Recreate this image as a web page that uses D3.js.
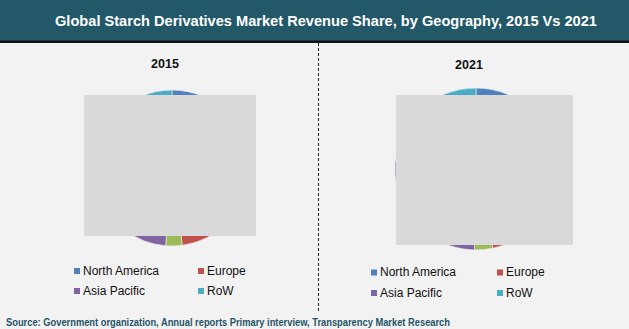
<!DOCTYPE html>
<html><head><meta charset="utf-8">
<script src="https://cdn.jsdelivr.net/npm/d3@7"></script>
<style>html,body{margin:0;padding:0;background:#F2F2F2;}svg{display:block;}</style>
</head><body>
<script>
const titleText = "Global Starch Derivatives Market Revenue Share, by Geography, 2015 Vs 2021";
const sourceText = "Source: Government organization, Annual reports Primary interview, Transparency Market Research";
const years = ["2015", "2021"];
const regions = ["North America", "Europe", "Latin America", "Asia Pacific", "RoW"];
const legendItems = ["North America", "Europe", "Asia Pacific", "RoW"];
const share2015 = [26.5, 21.4, 3.4, 36.0, 12.7];
const share2021 = [25.5, 21.2, 3.6, 37.5, 12.2];
const colors = ["#4F81BD", "#C0504D", "#9BBB59", "#8064A2", "#4BACC6"];

const W = 629, H = 329;
const svg = d3.select("body").append("svg").attr("width", W).attr("height", H);
svg.append("rect").attr("width", W).attr("height", H).attr("fill", "#F2F2F2");

// header
svg.append("rect").attr("x", 0).attr("y", 0).attr("width", W).attr("height", 41).attr("fill", "#225868");
svg.append("rect").attr("x", 0).attr("y", 40.5).attr("width", W).attr("height", 2.5).attr("fill", "#111");
svg.append("text").attr("x", 55).attr("y", 26).attr("fill", "#fff")
  .attr("font-family", "Liberation Sans, Arial, sans-serif").attr("font-weight", "bold").attr("font-size", 15)
  .attr("textLength", 542).attr("lengthAdjust", "spacingAndGlyphs").text(titleText);

// divider
svg.append("line").attr("x1", 318.5).attr("x2", 318.5).attr("y1", 43).attr("y2", 313)
  .attr("stroke", "#222").attr("stroke-width", 1).attr("stroke-dasharray", "3,2");

const color = d3.scaleOrdinal().domain(regions).range(colors);
const pie = d3.pie().sort(null).value(d => d.v);

const panels = [
  {year: years[0], data: share2015, cx: 172, cy: 168, r: 78, tx: 165, ty: 68,
   mask: [84, 95, 172, 141], lx: 74, ly: 268, lcol: 124, lrow: 20},
  {year: years[1], data: share2021, cx: 476, cy: 169, r: 81, tx: 469, ty: 69,
   mask: [396, 95, 177, 150], lx: 371, ly: 269.5, lcol: 126, lrow: 20.5}
];

panels.forEach(p => {
  const g = svg.append("g").attr("transform", `translate(${p.cx},${p.cy})`);
  const arc = d3.arc().innerRadius(0).outerRadius(p.r);
  const rows = regions.map((k, i) => ({k, v: p.data[i]}));
  g.selectAll("path").data(pie(rows)).join("path")
    .attr("d", arc).attr("fill", d => color(d.data.k))
    .attr("stroke", "#F2F2F2").attr("stroke-width", 0.6);
  svg.append("text").attr("x", p.tx).attr("y", p.ty).attr("text-anchor", "middle")
    .attr("font-family", "Liberation Sans, Arial, sans-serif").attr("font-weight", "bold")
    .attr("font-size", 12.5).attr("fill", "#111").text(p.year);
  svg.append("rect").attr("x", p.mask[0]).attr("y", p.mask[1]).attr("width", p.mask[2]).attr("height", p.mask[3])
    .attr("fill", "#D9D9D9");
  const lg = svg.append("g");
  legendItems.forEach((k, i) => {
    const x = p.lx + (i % 2) * p.lcol;
    const y = p.ly + Math.floor(i / 2) * p.lrow;
    lg.append("rect").attr("x", x).attr("y", y).attr("width", 6).attr("height", 6).attr("fill", color(k));
    lg.append("text").attr("x", x + 9).attr("y", y + 6.5)
      .attr("font-family", "Liberation Sans, Arial, sans-serif").attr("font-size", 12)
      .attr("fill", "#111").text(k);
  });
});

svg.append("text").attr("x", 6).attr("y", 325.5).attr("fill", "#1F5468")
  .attr("font-family", "Liberation Sans, Arial, sans-serif").attr("font-weight", "bold").attr("font-size", 10)
  .attr("textLength", 444).attr("lengthAdjust", "spacingAndGlyphs").text(sourceText);
</script>
</body></html>
